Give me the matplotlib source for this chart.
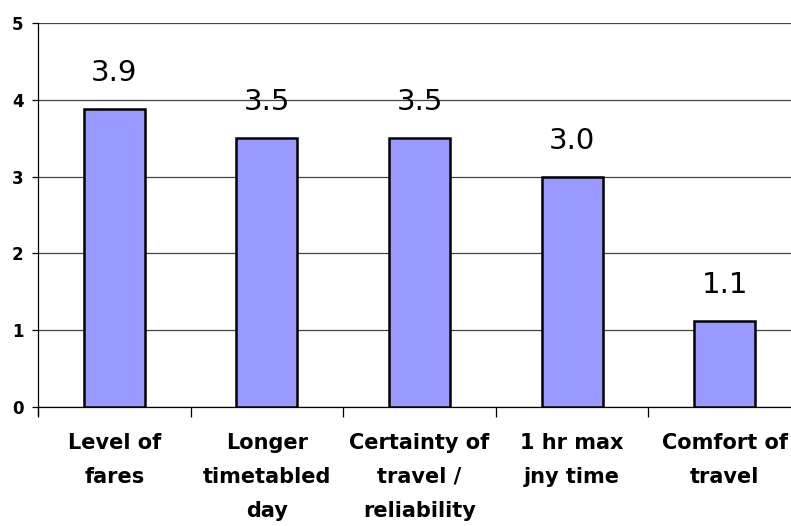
import numpy as np
import matplotlib.pyplot as plt
from matplotlib.ticker import MultipleLocator

categories = ["Level of\nfares", "Longer\ntimetabled\nday", "Certainty of\ntravel /\nreliability",
              "1 hr max\njny time", "Comfort of\ntravel"]
scores = [3.88, 3.50, 3.50, 3.00, 1.12]

BAR_COLOR = "#9999ff"

fig = plt.figure(figsize=(7.91, 5.26), dpi=100)
# axes run a little past the right edge of the figure
ax = fig.add_axes([38 / 791, 1 - 407 / 526, 763 / 791, 384 / 526])

x = np.arange(len(categories))
ax.bar(x, scores, width=0.40, color=BAR_COLOR, edgecolor="black", linewidth=1.8, zorder=3)

for xi, v in zip(x, scores):
    ax.annotate("{:.1f}".format(v), xy=(xi, v), xytext=(0, 20), textcoords="offset points",
                ha="center", va="baseline", fontsize=21, family="DejaVu Sans")

ax.set_xlim(-0.5, len(categories) - 0.5)
ax.set_ylim(0, 5)
ax.yaxis.set_major_locator(MultipleLocator(1))
ax.grid(axis="y", color="#444444", linewidth=0.9, zorder=0)

for s in ["top", "right"]:
    ax.spines[s].set_visible(False)
ax.spines["left"].set_linewidth(0.9)
ax.spines["bottom"].set_linewidth(0.9)
ax.spines["left"].set_bounds(-0.1, 5)

ax.set_xticks(x)
ax.set_xticklabels(categories, fontsize=15, fontweight="bold", linespacing=1.85, va="top")
ax.set_xticks(np.arange(len(categories) + 1) - 0.5, minor=True)
ax.tick_params(axis="x", which="major", length=0, pad=19)
ax.tick_params(axis="x", which="minor", length=7, width=0.9, direction="out")
ax.tick_params(axis="y", length=4.5, width=0.9, direction="out", labelsize=12, pad=6)
for lab in ax.get_yticklabels():
    lab.set_fontweight("bold")

fig.savefig("out.png", dpi=100)
